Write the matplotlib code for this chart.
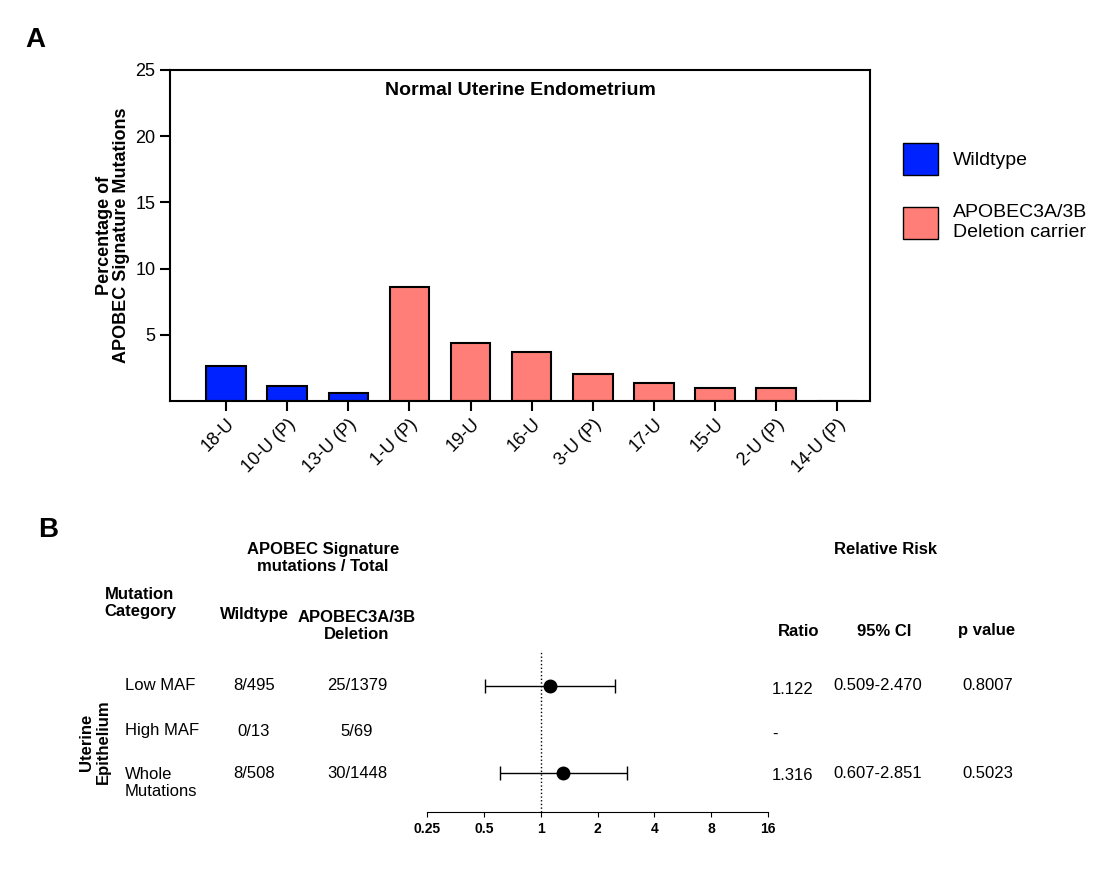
import matplotlib
matplotlib.use("Agg")
import matplotlib.pyplot as plt
import numpy as np
from matplotlib.patches import Patch

samples = ["18-U", "10-U (P)", "13-U (P)", "1-U (P)", "19-U", "16-U", "3-U (P)", "17-U", "15-U", "2-U (P)", "14-U (P)"]
pct = [2.65, 1.1, 0.6, 8.6, 4.4, 3.7, 2.05, 1.35, 1.0, 0.95, 0.0]
group = ["wt", "wt", "wt", "del", "del", "del", "del", "del", "del", "del", "del"]
colors = {"wt": "#0022FF", "del": "#FF7F78"}

rows = ["Low MAF", "High MAF", "Whole\nMutations"]
wt_counts = ["8/495", "0/13", "8/508"]
del_counts = ["25/1379", "5/69", "30/1448"]
ratio = [1.122, np.nan, 1.316]
ci_lo = [0.509, np.nan, 0.607]
ci_hi = [2.470, np.nan, 2.851]
ratio_txt = ["1.122", "-", "1.316"]
ci_txt = ["0.509-2.470", "", "0.607-2.851"]
p_txt = ["0.8007", "", "0.5023"]
xticks_f = [0.25, 0.5, 1, 2, 4, 8, 16]

W, H = 1102, 869
fig = plt.figure(figsize=(W/100, H/100), dpi=100)
plt.rcParams['font.family'] = ['Liberation Sans', 'DejaVu Sans']

def ax_px(l, t, r, b):
    return fig.add_axes([l/W, 1-b/H, (r-l)/W, (b-t)/H])

def txt(x, y, s, **kw):
    fig.text(x/W, 1-y/H, s, **kw)

# Panel A
ax = ax_px(170, 70, 870, 401)
x = np.arange(len(samples))
ax.bar(x, pct, width=0.65, color=[colors[g] for g in group], edgecolor="black", linewidth=1.5)
ax.set_xlim(-0.92, 10.54)
ax.set_ylim(0, 25)
ax.set_yticks([5, 10, 15, 20, 25])
ax.set_yticklabels(["5", "10", "15", "20", "25"], fontsize=13)
ax.set_xticks(x)
ax.set_xticklabels(samples, rotation=45, ha="right", rotation_mode="anchor", fontsize=13)
for s in ax.spines.values():
    s.set_linewidth(1.5)
ax.tick_params(width=1.5, length=7)
ax.set_ylabel("Percentage of\nAPOBEC Signature Mutations", fontsize=13, fontweight="bold", linespacing=1.0)
ax.set_title("Normal Uterine Endometrium", fontsize=14, fontweight="bold", y=0.9)
leg = fig.legend(handles=[Patch(facecolor=colors["wt"], edgecolor="black", label="Wildtype"),
                          Patch(facecolor=colors["del"], edgecolor="black", label="APOBEC3A/3B\nDeletion carrier")],
                 loc="upper left", bbox_to_anchor=(885/W, 1-125/H), frameon=False, fontsize=14,
                 handlelength=1.8, handleheight=2.2, labelspacing=1.5)

txt(25, 40, "A", fontsize=20, fontweight="bold", va="center")
txt(38, 530, "B", fontsize=20, fontweight="bold", va="center")

# Panel B headers
bold = dict(fontsize=12, fontweight="bold", ha="center", va="center")
txt(323, 558, "APOBEC Signature\nmutations / Total", **bold)
txt(140, 603, "Mutation\nCategory", **bold)
txt(254, 615, "Wildtype", **bold)
txt(357, 626, "APOBEC3A/3B\nDeletion", **bold)
txt(885, 550, "Relative Risk", **bold)
txt(799, 631, "Ratio", **bold)
txt(884, 631, "95% CI", **bold)
txt(987, 631, "p value", **bold)
txt(95, 742, "Uterine\nEpithelium", fontsize=12, fontweight="bold", ha="center", va="center", rotation=90)

row_y = [686, 731, 773]
for i, yy in enumerate(row_y):
    txt(125, yy if i < 2 else 783, rows[i], fontsize=12, ha="left", va="center")
    txt(254, yy, wt_counts[i], fontsize=12, ha="center", va="center")
    txt(357, yy, del_counts[i], fontsize=12, ha="center", va="center")
    txt(772, yy + 3, ratio_txt[i], fontsize=12, ha="left", va="center")
    txt(878, yy, ci_txt[i], fontsize=12, ha="center", va="center")
    txt(988, yy, p_txt[i], fontsize=12, ha="center", va="center")

# forest axis
fx = ax_px(427, 650, 768, 812)
fx.set_xscale("log", base=2)
fx.set_xlim(0.25, 16)
fx.set_ylim(812, 650)
for s in ["top", "right", "left"]:
    fx.spines[s].set_visible(False)
fx.set_yticks([])
fx.set_xticks(xticks_f)
fx.set_xticklabels(["0.25", "0.5", "1", "2", "4", "8", "16"], fontsize=10, fontweight="bold")
fx.minorticks_off()
fx.axvline(1, color="black", linestyle=":", linewidth=1)
for i in range(3):
    if not np.isnan(ratio[i]):
        fx.errorbar(ratio[i], row_y[i], xerr=[[ratio[i]-ci_lo[i]], [ci_hi[i]-ratio[i]]],
                    fmt="o", color="black", markersize=9, capsize=5, elinewidth=1)
fx.patch.set_alpha(0)

fig.savefig("out.png", dpi=100)
